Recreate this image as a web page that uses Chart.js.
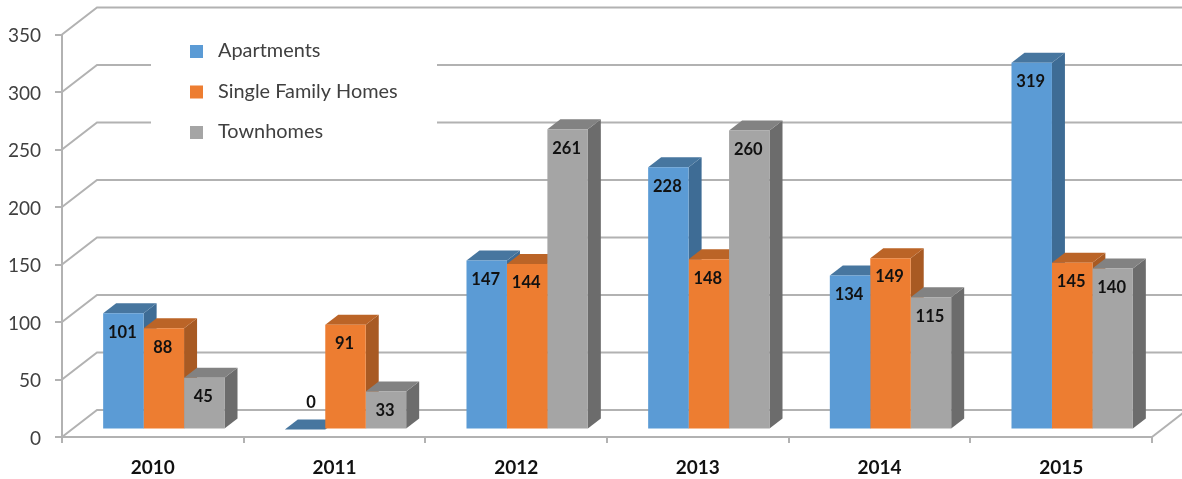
<!DOCTYPE html>
<html>
<head>
<meta charset="utf-8">
<title>Units by year</title>
<script src="https://cdn.jsdelivr.net/npm/chart.js@4"></script>
<style>
  html, body { margin: 0; background: #fff; }
  canvas { display: block; }
</style>
</head>
<body>
<canvas id="unitsChart" width="1182" height="479"></canvas>
<script>
const years = ["2010", "2011", "2012", "2013", "2014", "2015"];
const apartments = [101, 0, 147, 228, 134, 319];
const singleFamily = [88, 91, 144, 148, 149, 145];
const townhomes = [45, 33, 261, 260, 115, 140];
const yTicks = [0, 50, 100, 150, 200, 250, 300, 350];

const gridColor = "#b2b2b2";
const wallDepth = { x: 35, y: -27 };   // back wall offset from the axes
const barShift = { x: 11, y: -7.5 };   // bars stand a little way into the floor
const barDepth = { x: 13, y: -10 };    // depth of each 3d column

// top and side colours of the columns, same order as the datasets
const topColors = ["#47769f", "#bb6427", "#828282"];
const sideColors = ["#3e6c95", "#a85a23", "#6c6c6c"];

function line(ctx, x1, y1, x2, y2) {
  ctx.beginPath();
  ctx.moveTo(x1, y1);
  ctx.lineTo(x2, y2);
  ctx.stroke();
}

function face(ctx, color, pts) {
  ctx.fillStyle = color;
  ctx.beginPath();
  pts.forEach((p, i) => i ? ctx.lineTo(p[0], p[1]) : ctx.moveTo(p[0], p[1]));
  ctx.closePath();
  ctx.fill();
}

const walls3d = {
  id: "walls3d",
  // back wall, legend and column depth all sit under the flat bar fronts
  beforeDatasetsDraw(chart) {
    const { ctx, scales } = chart;
    const left = scales.x.left, right = scales.x.right, base = scales.y.getPixelForValue(0);
    ctx.save();
    ctx.strokeStyle = gridColor;
    ctx.lineWidth = 2;
    yTicks.forEach(v => {
      const y = scales.y.getPixelForValue(v);
      ctx.beginPath();
      ctx.moveTo(left, y);
      ctx.lineTo(left + wallDepth.x, y + wallDepth.y);
      ctx.lineTo(chart.width, y + wallDepth.y);
      ctx.stroke();
    });
    line(ctx, right, base, right + wallDepth.x, base + wallDepth.y);

    // white panel behind the legend breaks the wall lines
    ctx.fillStyle = "#fff";
    ctx.fillRect(151, 30, 286, 120);

    const legendRows = [51, 91.5, 132];
    ctx.font = "19.9px Lato";
    ctx.textBaseline = "middle";
    chart.data.datasets.forEach((ds, i) => {
      ctx.fillStyle = ds.backgroundColor;
      ctx.fillRect(190, legendRows[i] - 6, 13, 13);
      ctx.fillStyle = "#404040";
      ctx.fillText(ds.label, 218, legendRows[i]);
    });

    // sides and tops, first series first so each top lies over its neighbour's side
    const d = barDepth;
    ctx.translate(barShift.x, barShift.y);
    chart.data.datasets.forEach((ds, i) => {
      chart.getDatasetMeta(i).data.forEach(bar => {
        const l = bar.x - bar.width / 2, r = bar.x + bar.width / 2;
        face(ctx, sideColors[i], [[r, bar.y], [r + d.x, bar.y + d.y], [r + d.x, bar.base + d.y], [r, bar.base]]);
        face(ctx, topColors[i], [[l, bar.y], [l + d.x, bar.y + d.y], [r + d.x, bar.y + d.y], [r, bar.y]]);
      });
    });
    ctx.restore();
  },
  // the library draws the bar fronts, moved onto the depth faces
  beforeDatasetDraw(chart) {
    chart.ctx.save();
    chart.ctx.translate(barShift.x, barShift.y);
  },
  afterDatasetDraw(chart) {
    chart.ctx.restore();
  },
  // value labels go on last so no column covers them
  afterDatasetsDraw(chart) {
    const ctx = chart.ctx;
    ctx.save();
    ctx.font = "bold 16.5px Lato";
    ctx.fillStyle = "#111";
    ctx.textAlign = "center";
    ctx.textBaseline = "middle";
    chart.data.datasets.forEach((ds, i) => {
      chart.getDatasetMeta(i).data.forEach((bar, j) => {
        const x = bar.x + barShift.x - 1, y = bar.y + barShift.y;
        if (ds.data[j] === 0) ctx.fillText("0", x + 7, y - 27);
        else ctx.fillText(ds.data[j], x, y + 19);
      });
    });
    ctx.restore();
  }
};

new Chart("unitsChart", {
  type: "bar",
  data: {
    labels: years,
    datasets: [
      { label: "Apartments", data: apartments, backgroundColor: "#5b9bd5", clip: false },
      { label: "Single Family Homes", data: singleFamily, backgroundColor: "#ed7d31", clip: false },
      { label: "Townhomes", data: townhomes, backgroundColor: "#a5a5a5", clip: false }
    ]
  },
  options: {
    responsive: false,
    animation: false,
    layout: { padding: { top: 34.5, right: 30 } },
    datasets: { bar: { categoryPercentage: 0.668, barPercentage: 1 } },
    plugins: { legend: { display: false }, tooltip: { enabled: false } },
    scales: {
      x: {
        afterFit(scale) { scale.height = 42; },
        border: { color: gridColor, width: 2 },
        grid: { color: gridColor, lineWidth: 2, drawOnChartArea: false, tickLength: 6 },
        ticks: { color: "#111", padding: 13, maxRotation: 0, font: { family: "Lato", size: 19, weight: "bold" } }
      },
      y: {
        min: 0,
        max: 350,
        afterFit(scale) { scale.width = 62; },
        afterBuildTicks(scale) { scale.ticks = yTicks.map(value => ({ value })); },
        border: { color: gridColor, width: 2 },
        grid: { color: gridColor, lineWidth: 2, drawOnChartArea: false, tickLength: 7 },
        ticks: { color: "#404040", padding: 14, labelOffset: 1.5, font: { family: "Lato", size: 19 } }
      }
    }
  },
  plugins: [walls3d]
});
</script>
</body>
</html>
